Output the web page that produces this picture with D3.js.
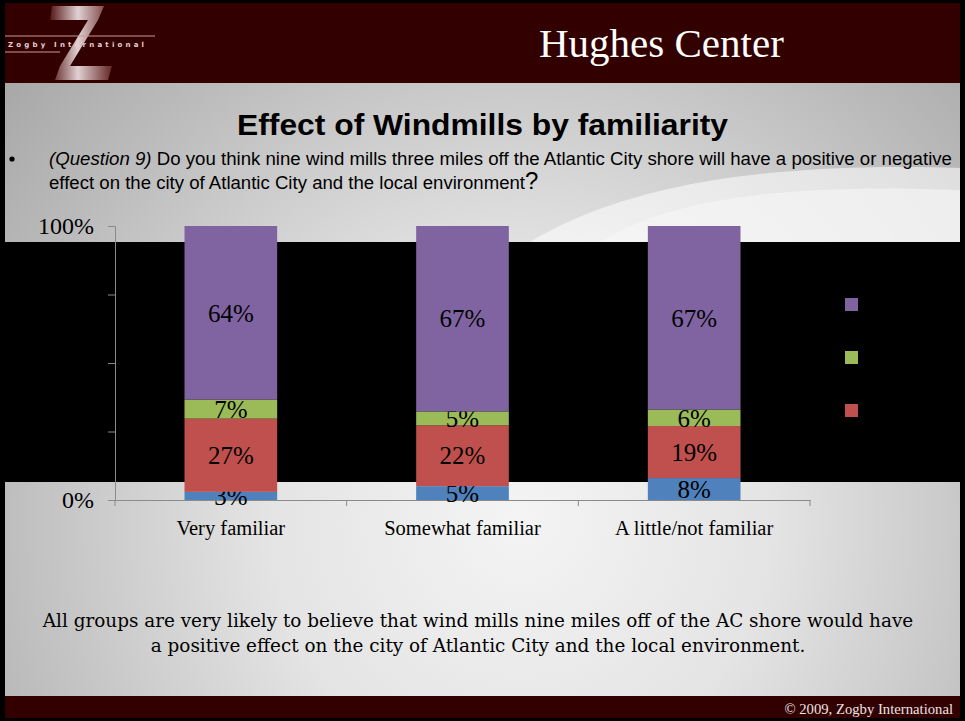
<!DOCTYPE html>
<html>
    <head>
        <meta charset="UTF-8">
        <script src="https://cdn.jsdelivr.net/npm/d3@7"></script>
        <style>
            body { margin: 0; background: #000; }
            svg { display: block; }
        </style>
    </head>

    <body>

        <svg id="canvas"></svg>

        <script>

            // chart data
            categories = ["Very familiar", "Somewhat familiar", "A little/not familiar"];
            seriesNames = ["Not sure", "Negative", "No effect", "Positive"];
            notSure  = [3, 5, 8];
            negative = [27, 22, 19];
            noEffect = [7, 5, 6];
            positive = [64, 67, 67];
            yTickValues = [0, 0.25, 0.5, 0.75, 1];
            yTickLabels = {0: "0%", 1: "100%"};

            colors = ["#4f81bd", "#c0504d", "#9bbb59", "#8064a2"];

            width = 965;
            height = 721;

            rows = categories.map((c, i) => ({
                category: c,
                "Not sure": notSure[i],
                "Negative": negative[i],
                "No effect": noEffect[i],
                "Positive": positive[i]
            }));

            canvas = d3.select("#canvas")
                .attr("width", width)
                .attr("height", height);

            defs = canvas.append("defs");

            bg = defs.append("radialGradient")
                .attr("id", "bg")
                .attr("gradientUnits", "userSpaceOnUse")
                .attr("cx", 520).attr("cy", 520).attr("r", 720);
            bg.append("stop").attr("offset", 0).attr("stop-color", "#f4f4f4");
            bg.append("stop").attr("offset", 0.35).attr("stop-color", "#e4e4e4");
            bg.append("stop").attr("offset", 0.75).attr("stop-color", "#bababa");
            bg.append("stop").attr("offset", 1).attr("stop-color", "#a2a2a2");

            zg = defs.append("linearGradient")
                .attr("id", "zg")
                .attr("x1", 0).attr("x2", 1).attr("y1", 0).attr("y2", 0);
            zg.append("stop").attr("offset", 0).attr("stop-color", "#5a1a1a");
            zg.append("stop").attr("offset", 0.45).attr("stop-color", "#f4e8ea");
            zg.append("stop").attr("offset", 1).attr("stop-color", "#6a2a2a");

            // slide body
            canvas.append("rect")
                .attr("x", 5).attr("y", 3)
                .attr("width", 955).attr("height", 715)
                .attr("fill", "url(#bg)");

            // photo-like white sweep behind the chart
            canvas.append("path")
                .attr("d", "M530 242 C600 200 720 160 960 168 L960 242 Z")
                .attr("fill", "#ffffff")
                .attr("opacity", 0.55);
            canvas.append("path")
                .attr("d", "M600 242 C660 205 760 182 960 190 L960 242 Z")
                .attr("fill", "#f6f6f6")
                .attr("opacity", 0.6);

            // header
            canvas.append("rect")
                .attr("x", 5).attr("y", 3)
                .attr("width", 955).attr("height", 80)
                .attr("fill", "#330000");

            canvas.append("path")
                .attr("d", "M52 6 L104 6 L98 20 L70 66 L112 66 L108 80 L55 80 L60 66 L88 20 L50 20 Z")
                .attr("fill", "url(#zg)")
                .attr("opacity", 0.9);
            canvas.append("line")
                .attr("x1", 5).attr("x2", 155).attr("y1", 36).attr("y2", 36)
                .attr("stroke", "#c89a9a").attr("stroke-width", 1);
            canvas.append("line")
                .attr("x1", 5).attr("x2", 60).attr("y1", 52).attr("y2", 52)
                .attr("stroke", "#c89a9a").attr("stroke-width", 1);
            canvas.append("text")
                .attr("x", 8).attr("y", 47)
                .attr("font-family", "DejaVu Sans")
                .attr("font-size", 7)
                .attr("font-weight", "bold")
                .attr("letter-spacing", 3.2)
                .attr("fill", "#e8d0d0")
                .text("Zogby International");

            canvas.append("text")
                .attr("x", 539).attr("y", 57)
                .attr("font-family", "Liberation Serif")
                .attr("font-size", 41)
                .attr("fill", "#ffffff")
                .text("Hughes Center");

            // footer
            canvas.append("rect")
                .attr("x", 5).attr("y", 696)
                .attr("width", 955).attr("height", 22)
                .attr("fill", "#330000");
            canvas.append("text")
                .attr("x", 953).attr("y", 714)
                .attr("text-anchor", "end")
                .attr("font-family", "Liberation Serif")
                .attr("font-size", 14.7)
                .attr("fill", "#ece4e4")
                .text("\u00a9 2009, Zogby International");

            // title and question
            canvas.append("text")
                .attr("x", 237).attr("y", 135)
                .attr("font-family", "Liberation Sans")
                .attr("font-weight", "bold")
                .attr("font-size", 29)
                .attr("textLength", 491)
                .attr("lengthAdjust", "spacingAndGlyphs")
                .attr("fill", "#000")
                .text("Effect of Windmills by familiarity");

            canvas.append("circle")
                .attr("cx", 12).attr("cy", 159).attr("r", 2.6)
                .attr("fill", "#000");

            q1 = canvas.append("text")
                .attr("x", 49).attr("y", 165)
                .attr("font-family", "Liberation Sans")
                .attr("font-size", 17.5)
                .attr("textLength", 903)
                .attr("lengthAdjust", "spacingAndGlyphs")
                .attr("fill", "#000");
            q1.append("tspan").attr("font-style", "italic").text("(Question 9)");
            q1.append("tspan").text(" Do you think nine wind mills three miles off the Atlantic City shore will have a positive or negative");

            q2 = canvas.append("text")
                .attr("x", 49).attr("y", 189)
                .attr("font-family", "Liberation Sans")
                .attr("font-size", 17.5)
                .attr("fill", "#000");
            q2.append("tspan")
                .attr("textLength", 476)
                .attr("lengthAdjust", "spacingAndGlyphs")
                .text("effect on the city of Atlantic City and the local environment");
            q2.append("tspan").attr("font-size", 24).text("?");

            // black band behind the plot
            canvas.append("rect")
                .attr("x", 5).attr("y", 242)
                .attr("width", 955).attr("height", 240)
                .attr("fill", "#000");

            // scales
            x = d3.scaleBand()
                .domain(categories)
                .range([115, 810])
                .paddingInner(0.6)
                .paddingOuter(0.3);

            y = d3.scaleLinear()
                .domain([0, 1])
                .range([500, 226]);

            color = d3.scaleOrdinal()
                .domain(seriesNames)
                .range(colors);

            stacked = d3.stack()
                .keys(seriesNames)
                .offset(d3.stackOffsetExpand)(rows);

            // y axis
            yAxis = canvas.append("g")
                .attr("transform", "translate(115,0)")
                .call(d3.axisLeft(y)
                    .tickValues(yTickValues)
                    .tickSize(7)
                    .tickPadding(14)
                    .tickFormat((d) => yTickLabels[d] || ""));
            yAxis.select(".domain").attr("stroke", "#8a8a8a");
            yAxis.selectAll(".tick line").attr("stroke", "#8a8a8a");
            yAxis.selectAll(".tick text")
                .attr("font-family", "Liberation Serif")
                .attr("font-size", 24)
                .attr("fill", "#000")
                .attr("dy", "0.3em");

            // x axis (labels under the bars, ticks between the groups)
            xAxis = canvas.append("g")
                .attr("transform", "translate(0,500)")
                .call(d3.axisBottom(x).tickSize(0).tickPadding(20));
            xAxis.select(".domain").attr("stroke", "#8a8a8a");
            xAxis.selectAll(".tick text")
                .attr("font-family", "Liberation Serif")
                .attr("font-size", 20.5)
                .attr("fill", "#000");

            boundaries = d3.range(categories.length + 1)
                .map((i) => x.range()[0] + i * x.step());
            xAxis.selectAll(".bound")
                .data(boundaries)
                .enter()
                    .append("line")
                        .attr("class", "bound")
                        .attr("x1", (d) => d).attr("x2", (d) => d)
                        .attr("y1", 0).attr("y2", 6)
                        .attr("stroke", "#8a8a8a");

            // bars
            layers = canvas.append("g")
                .selectAll("g")
                .data(stacked)
                .enter()
                    .append("g")
                        .attr("fill", (d) => color(d.key));

            layers.selectAll("rect")
                .data((d) => d)
                .enter()
                    .append("rect")
                        .attr("x", (d) => x(d.data.category))
                        .attr("y", (d) => y(d[1]))
                        .attr("width", x.bandwidth())
                        .attr("height", (d) => y(d[0]) - y(d[1]));

            layers.selectAll("text")
                .data((d) => d.map((p) => ({p: p, key: d.key})))
                .enter()
                    .append("text")
                        .attr("x", (d) => x(d.p.data.category) + x.bandwidth() / 2)
                        .attr("y", (d) => y((d.p[0] + d.p[1]) / 2))
                        .attr("dy", "0.35em")
                        .attr("text-anchor", "middle")
                        .attr("font-family", "Liberation Serif")
                        .attr("font-size", 25)
                        .attr("fill", "#000")
                        .text((d) => d.p.data[d.key] + "%");

            // legend (labels are lost on the black band)
            legendKeys = seriesNames.slice(1).reverse();
            canvas.append("g")
                .selectAll("rect")
                .data(legendKeys)
                .enter()
                    .append("rect")
                        .attr("x", 845)
                        .attr("y", (d, i) => 298 + i * 53)
                        .attr("width", 13)
                        .attr("height", 13)
                        .attr("fill", (d) => color(d));

            // takeaway
            takeaway = [
                "All groups are very likely to believe that wind mills nine miles off of the AC shore would have",
                "a positive effect on the city of Atlantic City and the local environment."
            ];
            canvas.append("g")
                .selectAll("text")
                .data(takeaway)
                .enter()
                    .append("text")
                        .attr("x", 478)
                        .attr("y", (d, i) => 627 + i * 25)
                        .attr("text-anchor", "middle")
                        .attr("font-family", "DejaVu Serif")
                        .attr("font-size", 18.4)
                        .attr("fill", "#000")
                        .text((d) => d);

        </script>

    </body>

</html>
